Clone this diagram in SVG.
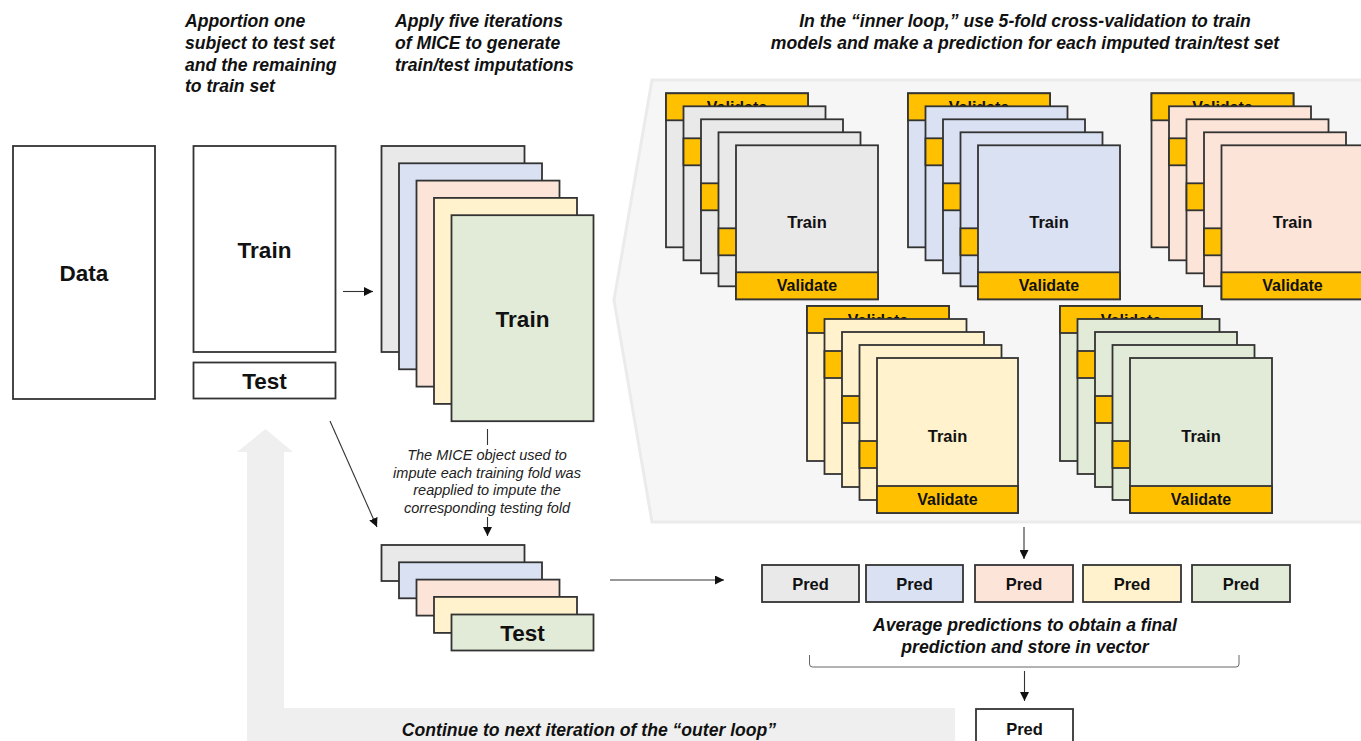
<svg xmlns="http://www.w3.org/2000/svg" width="1361" height="741" viewBox="0 0 1361 741">
<style>
.box{stroke:#333;stroke-width:1.8;}
.w{fill:#fff;}
.g{fill:#e9e9e9;}
.b{fill:#d9e1f2;}
.p{fill:#fde4d9;}
.y{fill:#fff2cc;}
.gr{fill:#e2ebd8;}
.band{fill:#ffc000;stroke:#333;stroke-width:1.8;}
.t{font-family:"Liberation Sans",Arial,sans-serif;font-weight:bold;fill:#111;text-anchor:middle;}
.big{font-size:22.5px;}
.mid{font-size:16.5px;}
.sm{font-size:16px;}
.hdr{font-family:"Liberation Sans",Arial,sans-serif;font-weight:bold;font-style:italic;font-size:17.6px;fill:#111;}
.note{font-family:"Liberation Sans",Arial,sans-serif;font-style:italic;font-size:14.5px;fill:#222;text-anchor:middle;}
.ln{stroke:#333;stroke-width:1.1;fill:none;}
</style>
<defs>
<marker id="ah" viewBox="0 0 10 10" refX="10" refY="5" markerWidth="9" markerHeight="9" markerUnits="userSpaceOnUse" orient="auto">
<path d="M0,0 L10,5 L0,10 Z" fill="#111"/>
</marker>
</defs>

<!-- background panel and loop arrow -->
<g id="inner-panel">
<polygon points="652,80 1366,80 1366,522 652,522 614,300" fill="#f6f6f6" stroke="#ebebeb" stroke-width="3"/>
</g>
<g id="outer-loop-arrow">
<path d="M237,452 L265.5,429 L293,452 L284,452 L284,708 L955,708 L955,745 L247,745 L247,452 Z" fill="#efefef"/>
<text class="hdr" x="589" y="736" text-anchor="middle">Continue to next iteration of the “outer loop”</text>
</g>

<!-- headers -->
<g id="header-apportion">
<text class="hdr" x="185" y="27">Apportion one</text>
<text class="hdr" x="185" y="49">subject to test set</text>
<text class="hdr" x="185" y="70.5">and the remaining</text>
<text class="hdr" x="185" y="92">to train set</text>
</g>
<g id="header-mice">
<text class="hdr" x="395" y="27">Apply five iterations</text>
<text class="hdr" x="395" y="49">of MICE to generate</text>
<text class="hdr" x="395" y="70.5">train/test imputations</text>
</g>
<g id="header-inner">
<text class="hdr" x="1025" y="27" text-anchor="middle">In the “inner loop,” use 5-fold cross-validation to train</text>
<text class="hdr" x="1025" y="49" text-anchor="middle">models and make a prediction for each imputed train/test set</text>
</g>

<!-- left boxes -->
<g id="data">
<rect class="box w" x="13" y="146" width="142" height="253"/>
<text class="t big" x="84" y="281">Data</text>
</g>
<g id="train">
<rect class="box w" x="193.5" y="146" width="142" height="206"/>
<text class="t big" x="264.5" y="258">Train</text>
</g>
<g id="test">
<rect class="box w" x="193.5" y="362.5" width="142" height="36"/>
<text class="t big" x="264.5" y="389">Test</text>
</g>

<!-- MICE train stack -->
<g id="mice-train">
<rect class="box g" x="381.5" y="146" width="143" height="206"/>
<rect class="box b" x="399" y="163.3" width="143" height="206"/>
<rect class="box p" x="416.5" y="180.6" width="143" height="206"/>
<rect class="box y" x="434" y="197.9" width="143" height="206"/>
<rect class="box gr" x="451.5" y="215.2" width="142" height="206"/>
<text class="t big" x="522.5" y="327">Train</text>
</g>

<!-- MICE note -->
<g id="mice-note">
<text class="note" x="487" y="460">The MICE object used to</text>
<text class="note" x="487" y="477.7">impute each training fold was</text>
<text class="note" x="487" y="495.3">reapplied to impute the</text>
<text class="note" x="487" y="513">corresponding testing fold</text>
</g>

<!-- MICE test stack -->
<g id="mice-test">
<rect class="box g" x="381.5" y="545" width="143" height="36"/>
<rect class="box b" x="399" y="562.3" width="143" height="36"/>
<rect class="box p" x="416.5" y="579.6" width="143" height="36"/>
<rect class="box y" x="434" y="596.9" width="143" height="36"/>
<rect class="box gr" x="451.5" y="614.5" width="142" height="36"/>
<text class="t big" x="522.5" y="641">Test</text>
</g>

<!-- CV fold stacks -->
<g id="cv-gray" transform="translate(666,93.3)">
<rect class="box g" x="0" y="0" width="142" height="154"/>
<rect class="band" x="0" y="0" width="142" height="27"/>
<text class="t sm" x="71" y="20">Validate</text>
<rect class="box g" x="17.5" y="13" width="142" height="154"/>
<rect class="band" x="17.5" y="45" width="142" height="27"/>
<rect class="box g" x="35" y="26" width="142" height="154"/>
<rect class="band" x="35" y="90" width="142" height="27"/>
<rect class="box g" x="52.5" y="39" width="142" height="154"/>
<rect class="band" x="52.5" y="135" width="142" height="27"/>
<rect class="box g" x="70" y="52" width="142" height="154"/>
<rect class="band" x="70" y="179" width="142" height="27"/>
<text class="t mid" x="141" y="135">Train</text>
<text class="t sm" x="141" y="198">Validate</text>
</g>
<g id="cv-blue" transform="translate(908,93.3)">
<rect class="box b" x="0" y="0" width="142" height="154"/>
<rect class="band" x="0" y="0" width="142" height="27"/>
<text class="t sm" x="71" y="20">Validate</text>
<rect class="box b" x="17.5" y="13" width="142" height="154"/>
<rect class="band" x="17.5" y="45" width="142" height="27"/>
<rect class="box b" x="35" y="26" width="142" height="154"/>
<rect class="band" x="35" y="90" width="142" height="27"/>
<rect class="box b" x="52.5" y="39" width="142" height="154"/>
<rect class="band" x="52.5" y="135" width="142" height="27"/>
<rect class="box b" x="70" y="52" width="142" height="154"/>
<rect class="band" x="70" y="179" width="142" height="27"/>
<text class="t mid" x="141" y="135">Train</text>
<text class="t sm" x="141" y="198">Validate</text>
</g>
<g id="cv-pink" transform="translate(1151.5,93.3)">
<rect class="box p" x="0" y="0" width="142" height="154"/>
<rect class="band" x="0" y="0" width="142" height="27"/>
<text class="t sm" x="71" y="20">Validate</text>
<rect class="box p" x="17.5" y="13" width="142" height="154"/>
<rect class="band" x="17.5" y="45" width="142" height="27"/>
<rect class="box p" x="35" y="26" width="142" height="154"/>
<rect class="band" x="35" y="90" width="142" height="27"/>
<rect class="box p" x="52.5" y="39" width="142" height="154"/>
<rect class="band" x="52.5" y="135" width="142" height="27"/>
<rect class="box p" x="70" y="52" width="142" height="154"/>
<rect class="band" x="70" y="179" width="142" height="27"/>
<text class="t mid" x="141" y="135">Train</text>
<text class="t sm" x="141" y="198">Validate</text>
</g>
<g id="cv-yellow" transform="translate(807,306)">
<rect class="box y" x="0" y="0" width="142" height="155"/>
<rect class="band" x="0" y="0" width="142" height="27"/>
<text class="t sm" x="71" y="20">Validate</text>
<rect class="box y" x="17.5" y="13" width="142" height="155"/>
<rect class="band" x="17.5" y="45" width="142" height="27"/>
<rect class="box y" x="35" y="26" width="142" height="155"/>
<rect class="band" x="35" y="90" width="142" height="27"/>
<rect class="box y" x="52.5" y="39" width="142" height="155"/>
<rect class="band" x="52.5" y="135" width="142" height="27"/>
<rect class="box y" x="70" y="52" width="141" height="155"/>
<rect class="band" x="70" y="180" width="141" height="27"/>
<text class="t mid" x="140.5" y="136">Train</text>
<text class="t sm" x="140.5" y="199">Validate</text>
</g>
<g id="cv-green" transform="translate(1060,306)">
<rect class="box gr" x="0" y="0" width="142" height="155"/>
<rect class="band" x="0" y="0" width="142" height="27"/>
<text class="t sm" x="71" y="20">Validate</text>
<rect class="box gr" x="17.5" y="13" width="142" height="155"/>
<rect class="band" x="17.5" y="45" width="142" height="27"/>
<rect class="box gr" x="35" y="26" width="142" height="155"/>
<rect class="band" x="35" y="90" width="142" height="27"/>
<rect class="box gr" x="52.5" y="39" width="142" height="155"/>
<rect class="band" x="52.5" y="135" width="142" height="27"/>
<rect class="box gr" x="70" y="52" width="142" height="155"/>
<rect class="band" x="70" y="180" width="142" height="27"/>
<text class="t mid" x="141" y="136">Train</text>
<text class="t sm" x="141" y="199">Validate</text>
</g>

<!-- predictions -->
<g id="pred-1"><rect class="box g" x="762" y="565" width="97" height="37"/><text class="t mid" x="810.5" y="589.5">Pred</text></g>
<g id="pred-2"><rect class="box b" x="866" y="565" width="97" height="37"/><text class="t mid" x="914.5" y="589.5">Pred</text></g>
<g id="pred-3"><rect class="box p" x="975" y="565" width="98" height="37"/><text class="t mid" x="1024" y="589.5">Pred</text></g>
<g id="pred-4"><rect class="box y" x="1083" y="565" width="98" height="37"/><text class="t mid" x="1132" y="589.5">Pred</text></g>
<g id="pred-5"><rect class="box gr" x="1192" y="565" width="98" height="37"/><text class="t mid" x="1241" y="589.5">Pred</text></g>

<g id="average-note">
<text class="hdr" x="1025" y="631" text-anchor="middle">Average predictions to obtain a final</text>
<text class="hdr" x="1025" y="653" text-anchor="middle">prediction and store in vector</text>
<path d="M809.5,655 L809.5,664 Q809.5,667 812.5,667 L1236,667 Q1239,667 1239,664 L1239,655" fill="none" stroke="#666" stroke-width="1"/>
</g>

<g id="pred-final">
<rect class="box w" x="976" y="709" width="97" height="40"/>
<text class="t mid" x="1024.5" y="735">Pred</text>
</g>

<!-- connectors -->
<g id="connectors">
<line class="ln" x1="343" y1="291.5" x2="373" y2="291.5" marker-end="url(#ah)"/>
<line class="ln" x1="330" y1="421" x2="377" y2="527" marker-end="url(#ah)"/>
<line class="ln" x1="487.5" y1="429" x2="487.5" y2="445" stroke="#777"/>
<line class="ln" x1="487.5" y1="517" x2="487.5" y2="536" marker-end="url(#ah)"/>
<line class="ln" x1="610" y1="580" x2="724" y2="580" marker-end="url(#ah)"/>
<line class="ln" x1="1024" y1="527" x2="1024" y2="559" marker-end="url(#ah)"/>
<line class="ln" x1="1024.5" y1="671" x2="1024.5" y2="701" marker-end="url(#ah)"/>
</g>
</svg>
